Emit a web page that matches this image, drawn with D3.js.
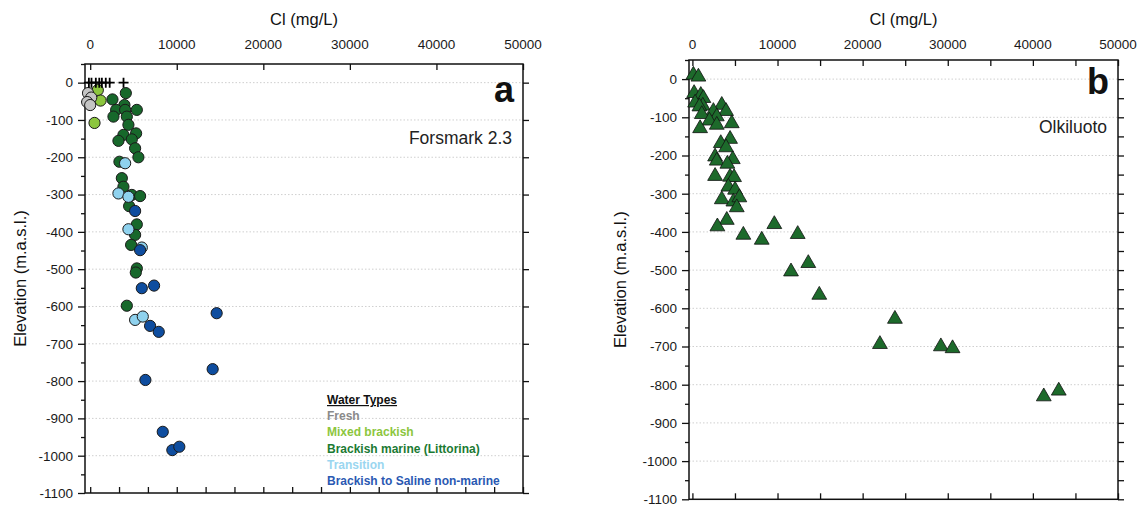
<!DOCTYPE html>
<html>
<head>
<meta charset="utf-8">
<script src="https://cdn.jsdelivr.net/npm/d3@7"></script>
<style>
  body { margin: 0; background: #fff; }
  text { font-family: "Liberation Sans", Arial, sans-serif; }
</style>
</head>
<body>
<div id="chart"></div>
<script>
// tick labels
const xTicks = [0, 10000, 20000, 30000, 40000, 50000];
const yTicks = [0, -100, -200, -300, -400, -500, -600, -700, -800, -900, -1000, -1100];

// water types (legend of panel a)
const waterTypes = ["Fresh", "Mixed brackish", "Brackish marine (Littorina)", "Transition", "Brackish to Saline non-marine"];
const markerColors = ["#c4c4c4", "#8cc63e", "#17682b", "#8fd2ee", "#0e4d9f"];
const legendColors = ["#8a8a8a", "#8cc63e", "#1b7a33", "#9ad6f0", "#2a58b2"];

// panel a (Forsmark 2.3) : [Cl mg/L, elevation m.a.s.l.]
const surfaceA = [[-150, 0], [150, 0], [650, 0], [1050, 0], [1350, 0], [1800, 0], [2250, 0], [3850, 0]];
const freshA = [[-250, -28], [120, -40], [-350, -52], [0, -60]];
const mixedA = [[880, -20], [1200, -48], [500, -108]];
const littorinaA = [
  [4116, -28], [2571, -45], [3955, -60], [2998, -73], [4036, -73], [5385, -73],
  [4232, -91], [2687, -91], [4416, -113], [3839, -140], [5304, -136], [3263, -156],
  [4808, -152], [5189, -176], [5569, -200], [3378, -212], [3655, -256], [3839, -279],
  [4808, -301], [5765, -304], [4497, -331], [5385, -380], [5189, -408], [4727, -435],
  [5385, -498], [5269, -509], [4232, -598]
];
const transitionA = [[4036, -216], [3263, -297], [4416, -306], [4416, -393], [5961, -442], [5189, -636], [6076, -627]];
const salineA = [
  [5189, -344], [5765, -449], [5961, -551], [7379, -544], [6918, -652], [7921, -668],
  [14609, -618], [14148, -768], [6376, -797], [8382, -936], [9489, -985], [10296, -976]
];

// panel b (Olkiluoto)
const olkiluotoB = [
  [117, 11], [704, 6], [200, -37], [986, -42], [1291, -50], [317, -62], [1221, -70], [822, -72],
  [3451, -68], [2465, -84], [3955, -84], [1103, -92], [2864, -98], [1995, -109], [4624, -116],
  [904, -129], [2864, -120], [4425, -157], [3333, -168], [3955, -179], [2664, -203], [2864, -214],
  [4742, -210], [4108, -222], [2664, -254], [4425, -256], [4894, -257], [4225, -282], [5012, -290],
  [3451, -315], [4812, -321], [5516, -310], [5211, -336], [4038, -369], [2934, -386], [9624, -380],
  [5986, -408], [8146, -421], [12371, -406], [11585, -504], [13615, -482], [14906, -565],
  [23791, -628], [22031, -694], [29190, -700], [30563, -705], [41280, -831], [43040, -816]
];

var svg = d3.select("#chart").append("svg")
  .attr("width", 1146)
  .attr("height", 506)
  .style("display", "block");

svg.append("rect").attr("width", 1146).attr("height", 506).attr("fill", "#fff");

function drawPanel(p) {
  var x = d3.scaleLinear().domain(p.xDomain).range([p.left, p.right]);
  var y = d3.scaleLinear().domain([50, -1100]).range([p.top, p.bottom]);
  var g = svg.append("g");

  // dotted grid
  g.selectAll(".grid").data(yTicks.filter(d => d > -1100)).enter().append("line")
    .attr("x1", p.left).attr("x2", p.right)
    .attr("y1", d => y(d)).attr("y2", d => y(d))
    .attr("stroke", "#cfcfcf").attr("stroke-width", 1)
    .attr("stroke-dasharray", "1.5,2");

  // top axis (labelled, ticks inward)
  g.append("g").attr("transform", "translate(0," + p.top + ")")
    .call(d3.axisBottom(x).tickValues(p.topTicks).tickSize(6).tickFormat(""))
    .call(a => a.select(".domain").remove());
  g.selectAll(".xlab").data(xTicks).enter().append("text")
    .attr("x", d => x(d)).attr("y", 49)
    .attr("text-anchor", "middle").attr("font-size", 13.5).attr("fill", "#1a1a1a")
    .text(d => d);

  // bottom axis ticks
  g.append("g").attr("transform", "translate(0," + p.bottom + ")")
    .call(d3.axisTop(x).tickValues(p.bottomTicks).tickSize(6).tickFormat(""))
    .call(a => a.select(".domain").remove());

  // left axis, ticks outward
  g.append("g").attr("transform", "translate(" + p.left + ",0)")
    .call(d3.axisLeft(y).tickValues(d3.range(50, -1100, -50).filter(d => d % 100 != 0)).tickSize(4).tickFormat(""))
    .call(a => a.select(".domain").remove());
  g.append("g").attr("transform", "translate(" + p.left + ",0)")
    .call(d3.axisLeft(y).tickValues(yTicks).tickSize(7).tickPadding(5).tickFormat(d => d))
    .call(a => a.select(".domain").remove())
    .call(a => a.selectAll("text").attr("font-size", 13.5).attr("fill", "#1a1a1a")
      .attr("font-family", "Liberation Sans, Arial, sans-serif"));

  // right axis, ticks inward
  g.append("g").attr("transform", "translate(" + p.right + ",0)")
    .call(d3.axisLeft(y).tickValues(p.rightTicks).tickSize(-6).tickFormat(""))
    .call(a => a.select(".domain").remove());

  g.selectAll(".tick line").attr("stroke", "#111").attr("stroke-width", 1.3);

  // frame
  g.append("rect")
    .attr("x", p.left).attr("y", p.top)
    .attr("width", p.right - p.left).attr("height", p.bottom - p.top)
    .attr("fill", "none").attr("stroke", "#111").attr("stroke-width", 1.5);

  // axis titles
  g.append("text")
    .attr("x", (p.left + p.right) / 2).attr("y", 25)
    .attr("text-anchor", "middle").attr("font-size", 16.5).attr("fill", "#111")
    .text("Cl (mg/L)");
  g.append("text")
    .attr("transform", "translate(" + p.yTitleX + "," + ((p.top + p.bottom) / 2) + ") rotate(-90)")
    .attr("text-anchor", "middle").attr("font-size", 16.5).attr("fill", "#111")
    .text("Elevation (m.a.s.l.)");

  // panel letter and site name
  g.append("text")
    .attr("x", p.right - 9).attr("y", p.letterY)
    .attr("text-anchor", "end").attr("font-size", 36).attr("font-weight", "bold").attr("fill", "#111")
    .text(p.letter);
  g.append("text")
    .attr("x", p.right - 11).attr("y", p.siteY)
    .attr("text-anchor", "end").attr("font-size", 17.5).attr("fill", "#222")
    .text(p.site);

  return { g: g, x: x, y: y };
}

// panel a
var pa = drawPanel({
  left: 85, right: 523, top: 64, bottom: 493,
  xDomain: [-600, 50000],
  topTicks: xTicks,
  bottomTicks: d3.range(0, 50001, 10000 / 3),
  rightTicks: yTicks,
  yTitleX: 26, letter: "a", letterY: 102, site: "Forsmark 2.3", siteY: 144
});

var seriesA = [littorinaA, transitionA, salineA, mixedA, freshA];
var drawOrder = [2, 3, 4, 1, 0];
seriesA.forEach(function (data, i) {
  var ci = drawOrder[i];
  pa.g.selectAll(".c" + ci).data(data).enter().append("circle")
    .attr("cx", d => pa.x(d[0]))
    .attr("cy", d => pa.y(d[1]))
    .attr("r", 5.6)
    .attr("fill", markerColors[ci])
    .attr("stroke", "#1a1a1a").attr("stroke-width", 1);
});

pa.g.selectAll(".plus").data(surfaceA).enter().append("path")
  .attr("transform", d => "translate(" + pa.x(d[0]) + "," + pa.y(d[1]) + ")")
  .attr("d", "M-5,0H5M0,-5V5")
  .attr("stroke", "#000").attr("stroke-width", 1.8).attr("fill", "none");

// legend
var legend = pa.g.append("g").attr("transform", "translate(327,404)");
legend.append("text")
  .attr("font-size", 12).attr("font-weight", "bold").attr("fill", "#111")
  .attr("text-decoration", "underline")
  .text("Water Types");
legend.selectAll(".lg").data(waterTypes).enter().append("text")
  .attr("y", (d, i) => 16.2 * (i + 1))
  .attr("font-size", 12).attr("font-weight", "bold")
  .attr("fill", (d, i) => legendColors[i])
  .text(d => d);

// panel b
var pb = drawPanel({
  left: 689, right: 1118, top: 60, bottom: 499.3,
  xDomain: [-400, 50000],
  topTicks: d3.range(0, 50001, 5000),
  bottomTicks: d3.range(0, 50001, 5000),
  rightTicks: d3.range(0, -1101, -50),
  yTitleX: 626, letter: "b", letterY: 94, site: "Olkiluoto", siteY: 133
});

pb.g.selectAll(".tri").data(olkiluotoB).enter().append("path")
  .attr("transform", d => "translate(" + pb.x(d[0]) + "," + pb.y(d[1]) + ")")
  .attr("d", d3.symbol().type(d3.symbolTriangle).size(95))
  .attr("fill", "#1d6a2b")
  .attr("stroke", "#111").attr("stroke-width", 0.8);
</script>
</body>
</html>
